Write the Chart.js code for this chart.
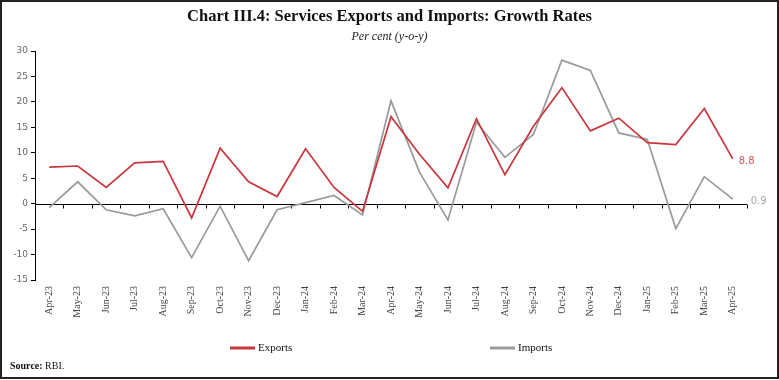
<!DOCTYPE html>
<html>
<head>
<meta charset="utf-8">
<script src="https://cdn.jsdelivr.net/npm/chart.js@4"></script>
<style>
  html, body { margin: 0; padding: 0; background: #fff; }
  #wrap { position: relative; width: 779px; height: 380px; overflow: hidden; }
  #frame { position: absolute; left: 0; top: 0; width: 779px; height: 379px; box-sizing: border-box;
           border: 2px solid #222; pointer-events: none; }
  #title { position: absolute; left: 0; width: 779px; top: 6px; text-align: center;
           font-family: "Liberation Serif", serif; font-weight: bold; font-size: 16.5px; color: #111; }
  #subtitle { position: absolute; left: 0; width: 779px; top: 29px; text-align: center;
           font-family: "Liberation Serif", serif; font-style: italic; font-size: 12px; color: #222; }
  #source { position: absolute; left: 10px; top: 360px; font-family: "Liberation Serif", serif;
           font-size: 10px; color: #111; }
  canvas { position: absolute; left: 0; top: 0; }
</style>
</head>
<body>
<div id="wrap">
  <canvas id="c" width="779" height="380"></canvas>
  <div id="title">Chart III.4: Services Exports and Imports: Growth Rates</div>
  <div id="subtitle">Per cent (y-o-y)</div>
  <div id="source"><b>Source:</b> RBI.</div>
  <div id="frame"></div>
</div>
<script>
const categories = ["Apr-23","May-23","Jun-23","Jul-23","Aug-23","Sep-23","Oct-23","Nov-23","Dec-23",
  "Jan-24","Feb-24","Mar-24","Apr-24","May-24","Jun-24","Jul-24","Aug-24","Sep-24","Oct-24","Nov-24",
  "Dec-24","Jan-25","Feb-25","Mar-25","Apr-25"];
const exportsGrowth = [7.2, 7.4, 3.2, 8.0, 8.3, -2.8, 10.9, 4.3, 1.4, 10.8, 3.2, -1.5, 17.1, 9.7, 3.1,
  16.7, 5.7, 15.2, 22.8, 14.3, 16.8, 12.0, 11.6, 18.7, 8.8];
const importsGrowth = [-0.8, 4.3, -1.2, -2.4, -1.0, -10.6, -0.5, -11.2, -1.2, 0.2, 1.6, -2.2, 20.2, 6.2,
  -3.2, 16.0, 9.1, 13.6, 28.2, 26.2, 13.9, 12.6, -4.9, 5.3, 0.9];
const yTicks = [-15, -10, -5, 0, 5, 10, 15, 20, 25, 30];

const RED = "#c9363e";
const GREY = "#9a9a9a";
const RED_LABEL = "#d0585e";
const GREY_LABEL = "#a8a8a8";

const zeroLinePlugin = {
  id: "zeroLine",
  beforeDatasetsDraw(chart) {
    const { ctx, scales: { x, y } } = chart;
    const y0 = Math.round(y.getPixelForValue(0)) + 0.5;
    ctx.save();
    ctx.strokeStyle = "#000";
    ctx.lineWidth = 1;
    ctx.beginPath();
    ctx.moveTo(chart.chartArea.left, y0);
    ctx.lineTo(chart.chartArea.right, y0);
    for (let i = 1; i <= categories.length; i++) {
      const xp = Math.round(x.getPixelForValue(i - 0.5)) + 0.5;
      ctx.moveTo(xp, y0);
      ctx.lineTo(xp, y0 + 4);
    }
    ctx.stroke();
    ctx.restore();
  }
};

const endLabelPlugin = {
  id: "endLabels",
  afterDatasetsDraw(chart) {
    const { ctx } = chart;
    const offsets = [6, 18];
    const dy = [3, 2];
    const colors = [RED_LABEL, GREY_LABEL];
    ctx.save();
    ctx.font = "10px 'DejaVu Sans', sans-serif";
    ctx.textBaseline = "middle";
    ctx.textAlign = "left";
    chart.data.datasets.forEach((ds, i) => {
      const meta = chart.getDatasetMeta(i);
      const last = meta.data[meta.data.length - 1];
      ctx.fillStyle = colors[i];
      ctx.fillText(ds.data[ds.data.length - 1].toFixed(1), last.x + offsets[i], last.y + dy[i]);
    });
    ctx.restore();
  }
};

const legendPlugin = {
  id: "customLegend",
  afterDraw(chart) {
    const { ctx } = chart;
    const starts = [230, 490];
    const yL = 348;
    ctx.save();
    ctx.font = "11px 'Liberation Serif', serif";
    ctx.textBaseline = "middle";
    ctx.textAlign = "left";
    chart.data.datasets.forEach((ds, i) => {
      ctx.strokeStyle = ds.borderColor;
      ctx.lineWidth = 3;
      ctx.beginPath();
      ctx.moveTo(starts[i], yL);
      ctx.lineTo(starts[i] + 25, yL);
      ctx.stroke();
      ctx.fillStyle = "#111";
      ctx.fillText(ds.label, starts[i] + 28, yL);
    });
    ctx.restore();
  }
};

new Chart(document.getElementById("c"), {
  type: "line",
  data: {
    labels: categories,
    datasets: [
      { label: "Exports", data: exportsGrowth, borderColor: RED, backgroundColor: RED,
        borderWidth: 1.7, pointRadius: 0, tension: 0 },
      { label: "Imports", data: importsGrowth, borderColor: GREY, backgroundColor: GREY,
        borderWidth: 1.7, pointRadius: 0, tension: 0 }
    ]
  },
  options: {
    responsive: false,
    animation: false,
    devicePixelRatio: 1,
    layout: { padding: { left: 0, right: 32, top: 51, bottom: 58 } },
    plugins: { legend: { display: false }, title: { display: false }, tooltip: { enabled: false } },
    scales: {
      x: {
        offset: true,
        grid: { display: false, drawTicks: false },
        border: { display: false },
        ticks: {
          autoSkip: false, maxRotation: 90, minRotation: 90, padding: 6,
          color: "#444", font: { family: "'Liberation Serif', serif", size: 10 }
        },
        afterFit(s) { s.height = 42; }
      },
      y: {
        min: -15, max: 30,
        afterBuildTicks(s) { s.ticks = yTicks.map(v => ({ value: v })); },
        grid: { drawOnChartArea: false, drawTicks: true, tickLength: 4, color: "#000" },
        border: { display: true, color: "#000", width: 1 },
        ticks: { padding: 3, color: "#666", font: { family: "'DejaVu Sans', sans-serif", size: 9 } },
        afterFit(s) { s.width = 35; }
      }
    }
  },
  plugins: [zeroLinePlugin, endLabelPlugin, legendPlugin]
});
</script>
</body>
</html>
